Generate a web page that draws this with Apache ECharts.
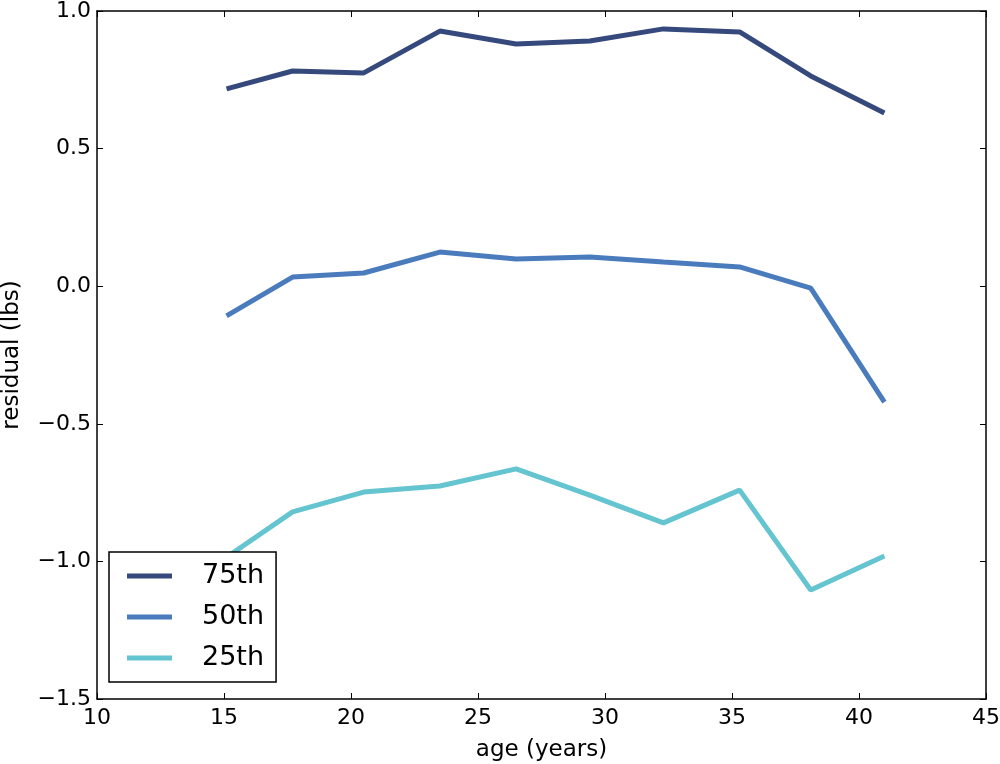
<!DOCTYPE html>
<html>
<head>
<meta charset="utf-8">
<script src="https://cdn.jsdelivr.net/npm/echarts@6/dist/echarts.min.js"></script>
<style>html,body{margin:0;padding:0;background:#fff}#c{width:1000px;height:764px}</style>
</head>
<body>
<div id="c"></div>
<script>
const ages = [15.1, 17.7, 20.5, 23.5, 26.5, 29.4, 32.3, 35.3, 38.1, 41.0];
const p75 = [0.717, 0.782, 0.775, 0.927, 0.880, 0.891, 0.935, 0.924, 0.764, 0.629];
const p50 = [-0.108, 0.033, 0.048, 0.124, 0.099, 0.106, 0.088, 0.070, -0.007, -0.421];
const p25 = [-0.985, -0.820, -0.748, -0.726, -0.664, -0.759, -0.860, -0.741, -1.104, -0.980];
const seriesNames = ['75th', '50th', '25th'];
const colors = ['#35497d', '#4a7cbd', '#64c4d0'];

const FONT = 'DejaVu Sans';
const pairs = v => ages.map((a, i) => [a, v[i]]);
const minus = s => String(s).replace('-', '\u2212');

const axisLineStyle = {show: true, onZero: false, lineStyle: {color: '#000', width: 1.5}};
const tick = {show: true, inside: true, length: 6, lineStyle: {color: '#000', width: 1}};

const chart = echarts.init(document.getElementById('c'), null, {renderer: 'canvas'});
chart.setOption({
  animation: false,
  backgroundColor: '#fff',
  color: colors,
  grid: {left: 97, right: 14, top: 11, bottom: 65, containLabel: false, outerBoundsMode: 'none'},
  xAxis: [
    {type: 'value', min: 10, max: 45, interval: 5, position: 'bottom',
     name: 'age (years)', nameLocation: 'middle', nameGap: 40,
     nameTextStyle: {fontFamily: FONT, fontSize: 23, color: '#000'},
     axisLine: axisLineStyle, axisTick: tick, splitLine: {show: false},
     axisLabel: {fontFamily: FONT, fontSize: 22, color: '#000', margin: 8}},
    {type: 'value', min: 10, max: 45, interval: 5, position: 'top',
     axisLine: axisLineStyle, axisTick: tick, splitLine: {show: false},
     axisLabel: {show: false}}
  ],
  yAxis: [
    {type: 'value', min: -1.5, max: 1.0, interval: 0.5, position: 'left',
     name: 'residual (lbs)', nameLocation: 'middle', nameGap: 73,
     nameTextStyle: {fontFamily: FONT, fontSize: 23, color: '#000'},
     axisLine: axisLineStyle, axisTick: tick, splitLine: {show: false},
     axisLabel: {fontFamily: FONT, fontSize: 22, color: '#000', margin: 6,
       formatter: v => minus(v.toFixed(1))}},
    {type: 'value', min: -1.5, max: 1.0, interval: 0.5, position: 'right',
     axisLine: axisLineStyle, axisTick: tick, splitLine: {show: false},
     axisLabel: {show: false}}
  ],
  legend: {
    orient: 'vertical', left: 109, top: 552,
    backgroundColor: '#fff', borderColor: '#000', borderWidth: 1.5, borderRadius: 0,
    padding: [9, 12, 9, 18], itemGap: 11, itemWidth: 45, itemHeight: 5,
    icon: 'rect',
    textStyle: {fontFamily: FONT, fontSize: 27, color: '#000', lineHeight: 30, padding: [0, 0, 0, 25]},
    data: seriesNames
  },
  series: [
    {name: seriesNames[0], type: 'line', data: pairs(p75), showSymbol: false, lineStyle: {width: 5, color: colors[0]}, itemStyle: {color: colors[0]}},
    {name: seriesNames[1], type: 'line', data: pairs(p50), showSymbol: false, lineStyle: {width: 5, color: colors[1]}, itemStyle: {color: colors[1]}},
    {name: seriesNames[2], type: 'line', data: pairs(p25), showSymbol: false, lineStyle: {width: 5, color: colors[2]}, itemStyle: {color: colors[2]}}
  ]
});
</script>
</body>
</html>
